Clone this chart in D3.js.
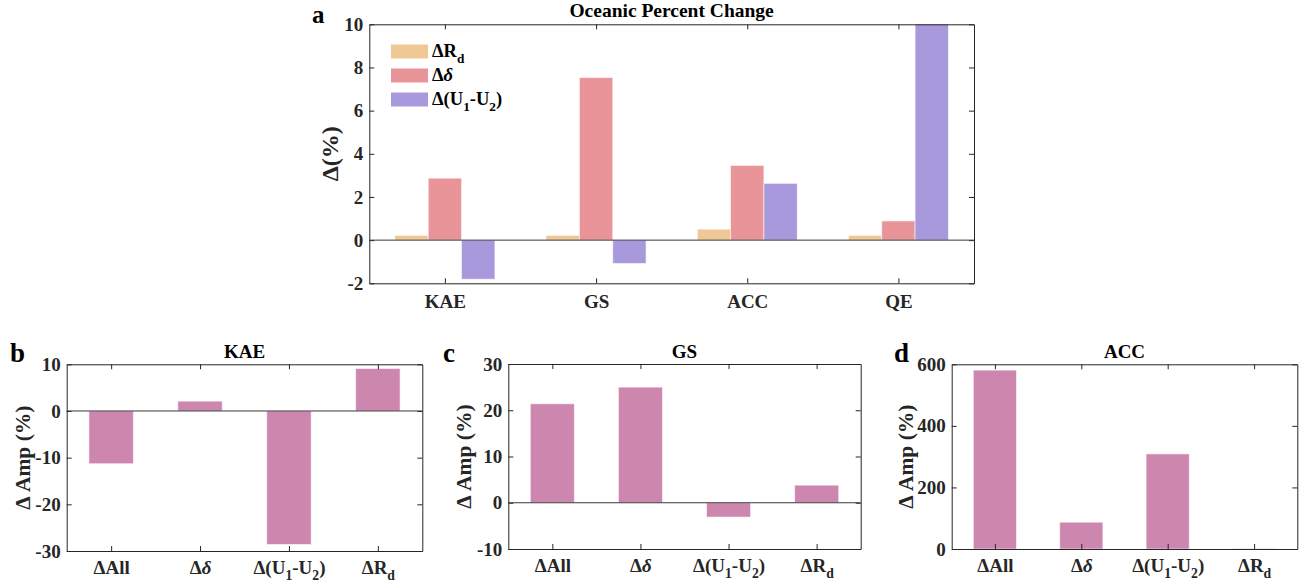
<!DOCTYPE html>
<html>
<head>
<meta charset="UTF-8">
<title>Oceanic Percent Change</title>
<script src="https://cdnjs.cloudflare.com/ajax/libs/d3/7.8.5/d3.min.js"></script>
<style>
  body { margin: 0; background: #fff; }
  svg { font-family: "Liberation Serif", "Times New Roman", serif; font-weight: bold; }
  .tick text { fill: #262626; }
  .domain, .tick line { stroke: #262626; }
</style>
</head>
<body>
<svg id="fig" width="1307" height="588"></svg>
<script>
// panel a
const regions = ["KAE", "GS", "ACC", "QE"];
const seriesNames = ["ΔR_d", "Δδ", "Δ(U_1-U_2)"];
const seriesColors = ["#f0c896", "#e89498", "#a898dc"];
const rdChange = [0.22, 0.22, 0.51, 0.22];
const deltaChange = [2.87, 7.53, 3.46, 0.89];
const shearChange = [-1.81, -1.08, 2.63, 11];
const topTicks = [-2, 0, 2, 4, 6, 8, 10];

// panels b-d
const factorLabels = ["ΔAll", "Δδ", "Δ(U_1-U_2)", "ΔR_d"];
const kaeAmp = [-11.3, 2.1, -28.6, 9.1];
const gsAmp = [21.4, 25.0, -3.1, 3.8];
const accAmp = [581, 87, 309, 1];
const kaeTicks = [-30, -20, -10, 0, 10];
const gsTicks = [-10, 0, 10, 20, 30];
const accTicks = [0, 200, 400, 600];
const ampColor = "#cd87af";

const svg = d3.select("#fig");

// writes labels like "ΔR_d" with subscripts and italic delta
function richText(text, label) {
  text.text(null);
  let shift = 0;
  label.split(/(_.|δ)/).filter(s => s).forEach(s => {
    const sub = s[0] === "_";
    const ts = text.append("tspan").text(sub ? s[1] : s);
    const target = sub ? 6 : 0;
    if (target !== shift) { ts.attr("dy", target - shift); shift = target; }
    if (sub) ts.attr("font-size", "0.72em");
    if (s === "δ") ts.attr("font-style", "italic");
  });
}

function frame(g, x, y, yTicks, xLabels, fs, padX) {
  const [x0, x1] = x.range(), [y0, y1] = y.range();
  const idx = d3.range(1, xLabels.length + 1);
  const fix = a => a.attr("font-family", null).attr("font-size", fs);

  g.append("g").attr("transform", `translate(${x0},0)`)
    .call(d3.axisLeft(y).tickValues(yTicks).tickSizeInner(-5).tickSizeOuter(0).tickPadding(6)
      .tickFormat(d => String(d)))
    .call(fix);
  g.append("g").attr("transform", `translate(${x1},0)`)
    .call(d3.axisRight(y).tickValues(yTicks).tickSizeInner(-5).tickSizeOuter(0).tickFormat(""));
  g.append("g").attr("transform", `translate(0,${y1})`)
    .call(d3.axisTop(x).tickValues(idx).tickSizeInner(-5).tickSizeOuter(0).tickFormat(""));
  const bx = g.append("g").attr("transform", `translate(0,${y0})`)
    .call(d3.axisBottom(x).tickValues(idx).tickSizeInner(-5).tickSizeOuter(0).tickPadding(padX).tickFormat(""))
    .call(fix);
  bx.selectAll(".tick text").each(function(d) { richText(d3.select(this), xLabels[d - 1]); });

  if (y.domain()[0] < 0 && y.domain()[1] > 0) {
    g.append("line")
      .attr("x1", x0).attr("x2", x1)
      .attr("y1", y(0)).attr("y2", y(0))
      .attr("stroke", "#3a3a3a").attr("stroke-width", 1);
  }
}

function label(txt, px, py, size, anchor) {
  return svg.append("text").attr("x", px).attr("y", py)
    .attr("font-size", size).attr("text-anchor", anchor || "start")
    .attr("fill", "#000").text(txt);
}

function yLabel(txt, px, py, size) {
  svg.append("text").attr("transform", `translate(${px},${py}) rotate(-90)`)
    .attr("dy", "0.35em").attr("text-anchor", "middle")
    .attr("font-size", size).attr("fill", "#262626").text(txt);
}

// ---- panel a ----
{
  const x = d3.scaleLinear().domain([0.5, 4.5]).range([369.3, 974]);
  const y = d3.scaleLinear().domain([-2, 10]).range([283.3, 24.3]);
  const g = svg.append("g");
  const bw = 0.2205;
  const series = [rdChange, deltaChange, shearChange];

  svg.append("clipPath").attr("id", "clipA").append("rect")
    .attr("x", 369.3).attr("y", 24.3).attr("width", 604.7).attr("height", 259);

  const bars = g.append("g").attr("clip-path", "url(#clipA)");
  series.forEach((vals, s) => {
    bars.selectAll(null).data(vals).join("rect")
      .attr("x", (d, i) => x(i + 1 + (s - 1) * bw - bw / 2))
      .attr("width", x(bw) - x(0))
      .attr("y", d => y(Math.max(0, d)))
      .attr("height", d => Math.abs(y(d) - y(0)))
      .attr("fill", seriesColors[s])
      .attr("stroke", "#fff").attr("stroke-opacity", 0.55).attr("stroke-width", 1);
  });

  frame(g, x, y, topTicks, regions, 19, 11);

  // legend
  seriesNames.forEach((name, s) => {
    const cy = 51.5 + s * 24;
    svg.append("rect").attr("x", 391).attr("y", cy - 7).attr("width", 37).attr("height", 14)
      .attr("fill", seriesColors[s]);
    const t = svg.append("text").attr("x", 432).attr("y", cy + 5.5)
      .attr("font-size", 18.5).attr("fill", "#000");
    richText(t, name);
  });

  label("Oceanic Percent Change", 671.6, 17, 19.5, "middle");
  label("a", 312, 23, 25);
  yLabel("Δ(%)", 330, 153.8, 24);
}

// ---- panels b-d ----
const small = [
  { vals: kaeAmp, ticks: kaeTicks, dom: [-30, 10], xr: [66.7, 422.3], yr: [551, 364.3], title: "KAE", tag: "b", tagX: 10, ylx: 22 },
  { vals: gsAmp, ticks: gsTicks, dom: [-10, 30], xr: [508.3, 860.7], yr: [549, 364], title: "GS", tag: "c", tagX: 443, ylx: 463 },
  { vals: accAmp, ticks: accTicks, dom: [0, 600], xr: [951.7, 1297.3], yr: [549, 364.3], title: "ACC", tag: "d", tagX: 894, ylx: 905 }
];

small.forEach(p => {
  const x = d3.scaleLinear().domain([0.5, 4.5]).range(p.xr);
  const y = d3.scaleLinear().domain(p.dom).range(p.yr);
  const g = svg.append("g");
  const bw = 0.5;

  g.selectAll(null).data(p.vals).join("rect")
    .attr("x", (d, i) => x(i + 1 - bw / 2))
    .attr("width", x(bw) - x(0))
    .attr("y", d => y(Math.max(0, d)))
    .attr("height", d => Math.abs(y(d) - y(0)))
    .attr("fill", ampColor)
    .attr("stroke", "#fff").attr("stroke-opacity", 0.55).attr("stroke-width", 1);

  frame(g, x, y, p.ticks, factorLabels, 19, 10);

  label(p.title, (p.xr[0] + p.xr[1]) / 2, 358, 19, "middle");
  label(p.tag, p.tagX, 362, 27);
  yLabel("Δ Amp (%)", p.ylx, (p.yr[0] + p.yr[1]) / 2, 21.5);
});
</script>
</body>
</html>
